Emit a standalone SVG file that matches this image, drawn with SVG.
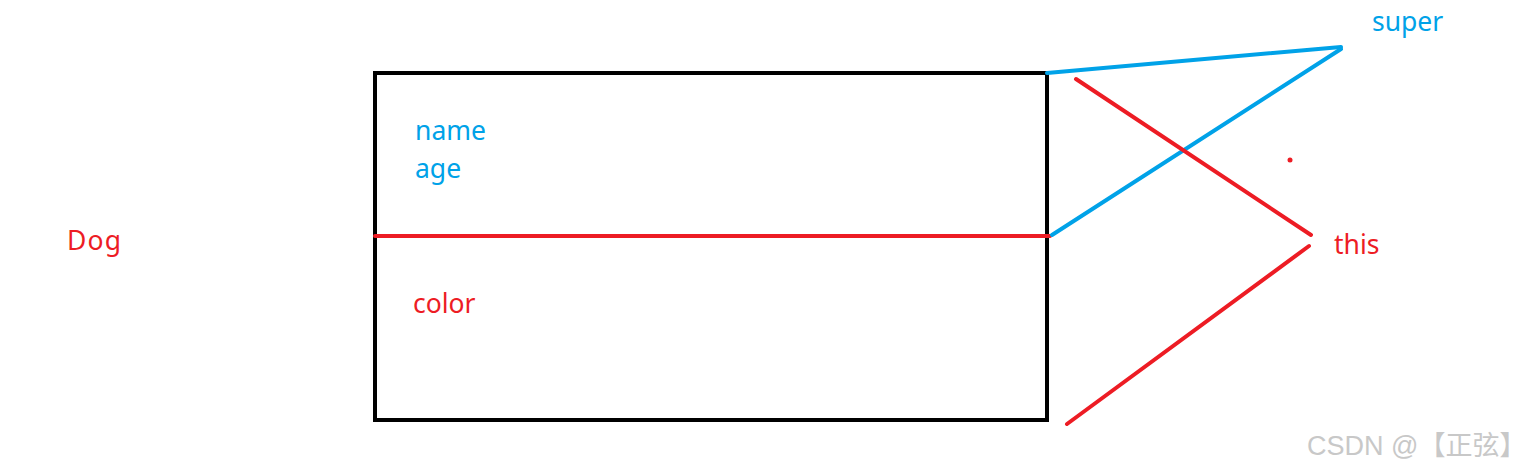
<svg xmlns="http://www.w3.org/2000/svg" width="1539" height="471" viewBox="0 0 1539 471">
<style>
.t{font-family:"Noto Sans","Liberation Sans",sans-serif;font-size:26.5px}
.b{fill:#00a2e8}.r{fill:#ed1c24}
.lb{stroke:#00a2e8;stroke-width:4;stroke-linecap:round;fill:none}
.lr{stroke:#ed1c24;stroke-width:4;stroke-linecap:round;fill:none}
.wm{font-family:"Liberation Sans","Noto Sans CJK SC",sans-serif;font-size:27px;fill:#c8c8c8}
</style>
<rect width="1539" height="471" fill="#fff"/>
<g id="box">
<rect x="375" y="73" width="672" height="347" fill="none" stroke="#000" stroke-width="4"/>
<line x1="375" y1="236" x2="1050" y2="236" class="lr"/>
<text x="415" y="140" class="t b">name</text>
<text x="415" y="178" class="t b">age</text>
<text x="413" y="313" class="t r">color</text>
</g>
<g id="dog"><text x="67" y="250" class="t r" textLength="54">Dog</text></g>
<g id="super"><text x="1372" y="31" class="t b">super</text></g>
<g id="this"><text x="1334" y="254" class="t r">this</text></g>
<g id="connectors">
<line x1="1047" y1="73" x2="1341" y2="47" class="lb"/>
<line x1="1341" y1="49" x2="1052" y2="235" class="lb"/>
<line x1="1076" y1="79" x2="1311" y2="235" class="lr"/>
<line x1="1309" y1="246" x2="1067" y2="424" class="lr"/>
<circle cx="1290" cy="160" r="2.5" fill="#ed1c24"/>
</g>
<text x="1307" y="455" class="wm">CSDN @【正弦】</text>
</svg>
